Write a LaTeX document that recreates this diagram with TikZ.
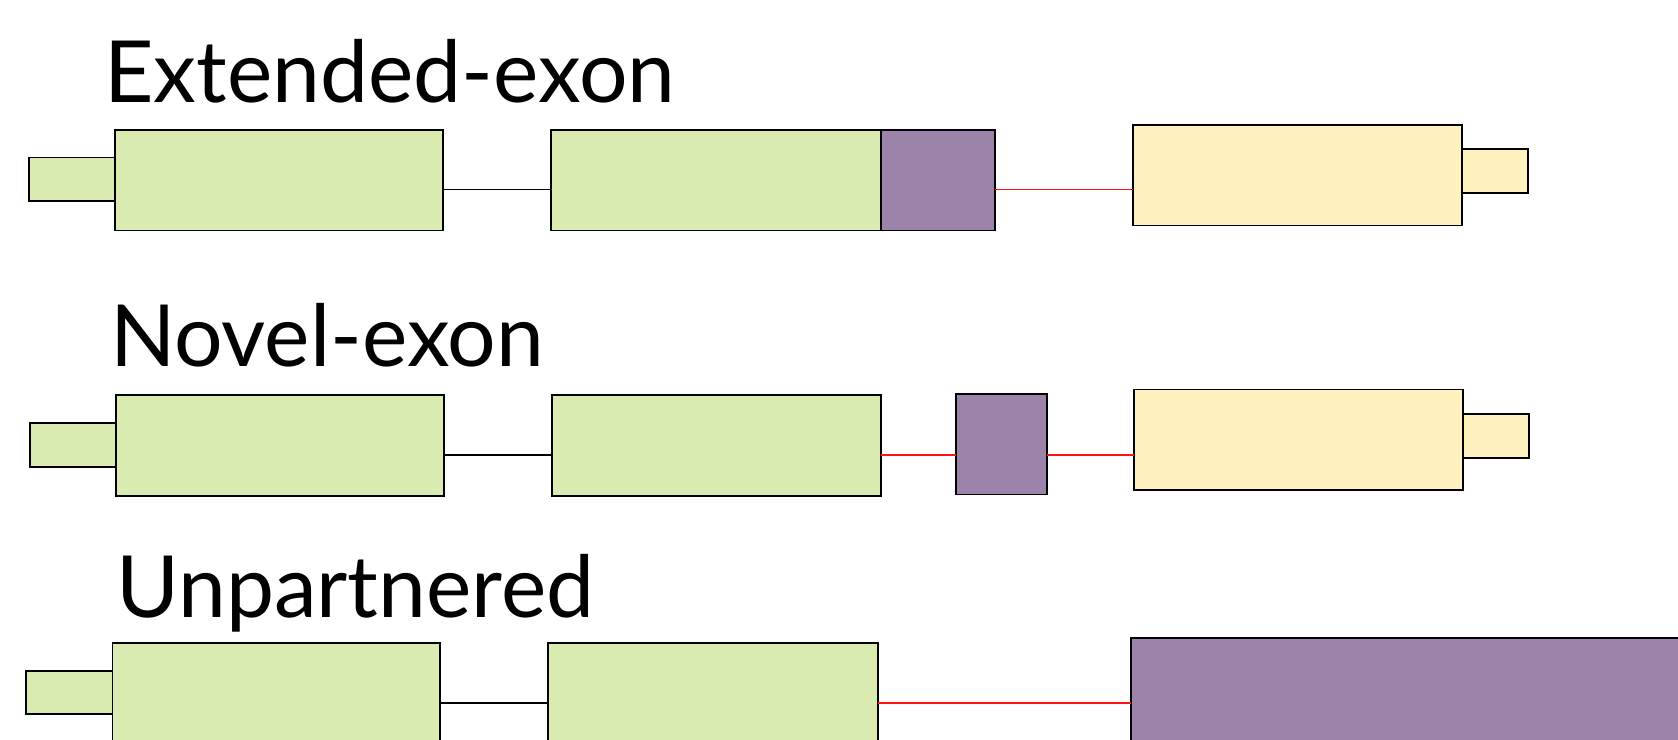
\documentclass[tikz,border=0pt]{standalone}
\usepackage{fontspec}
\setmainfont{Lato}
\definecolor{cds}{HTML}{DAEBB1}
\definecolor{novel}{HTML}{9C83A9}
\definecolor{utr}{HTML}{FFF2BF}
\definecolor{junction}{HTML}{FF1414}

% exon box from its top-left corner (x1,y1) to bottom-right corner (x2,y2)
\newcommand{\exonbox}[6]{%
  \node[exon,#6,minimum width={(#4-#2)*0.03cm},minimum height={(#5-#3)*0.03cm}] (#1) at (#2,#3) {};}

\begin{document}
\begin{tikzpicture}[x=0.03cm,y=-0.03cm,
  exon/.style={draw=black,line width=1.5pt,inner sep=0pt,outer sep=0pt,anchor=north west},
  coding/.style={fill=cds},
  extra/.style={fill=novel},
  utrbox/.style={fill=utr},
  intron/.style={draw=black,line width=1.5pt},
  newjunc/.style={draw=junction,line width=1.5pt},
  title/.style={anchor=base west,inner sep=0pt,font=\fontsize{73.2}{80}\selectfont}]
\clip (0,0) rectangle (1678,740);
\fill[white] (0,0) rectangle (1678,740);

% ---- Extended-exon ----
\node[title] (t1) at (104,103) {Extended-exon};
\exonbox{u1a}{29}{157.5}{115}{201}{coding}
\exonbox{e1a}{115}{130}{443}{230.5}{coding}
\exonbox{e1b}{551}{130}{881}{230.5}{coding}
\exonbox{x1}{881}{130}{995}{230.5}{extra}
\exonbox{u1b}{1462}{149.3}{1528}{193.3}{utrbox}
\exonbox{e1c}{1133}{124.7}{1462}{225.5}{utrbox}
\coordinate (r1) at (0,189.5);
\draw[intron] (e1a.east |- r1) -- (e1b.west |- r1);
\draw[newjunc] (x1.east |- r1) -- (e1c.west |- r1);

% ---- Novel-exon ----
\node[title] (t2) at (110,366) {Novel-exon};
\exonbox{u2a}{30}{422.7}{116}{467.3}{coding}
\exonbox{e2a}{116}{395}{444}{496}{coding}
\exonbox{e2b}{552}{395}{881}{496}{coding}
\exonbox{x2}{956}{394}{1047}{494.5}{extra}
\exonbox{u2b}{1463}{414.2}{1529}{458}{utrbox}
\exonbox{e2c}{1134}{389.6}{1463}{490.2}{utrbox}
\coordinate (r2) at (0,455);
\draw[intron] (e2a.east |- r2) -- (e2b.west |- r2);
\draw[newjunc] (e2b.east |- r2) -- (x2.west |- r2);
\draw[newjunc] (x2.east |- r2) -- (e2c.west |- r2);

% ---- Unpartnered ----
\node[title] (t3) at (116,617) {Unpartnered};
\exonbox{u3a}{26}{671}{112.5}{714}{coding}
\exonbox{e3a}{112.5}{643}{440}{745}{coding}
\exonbox{e3b}{548}{643}{878}{745}{coding}
\exonbox{x3}{1131}{638}{1700}{745}{extra}
\coordinate (r3) at (0,703);
\draw[intron] (e3a.east |- r3) -- (e3b.west |- r3);
\draw[newjunc] (e3b.east |- r3) -- (x3.west |- r3);
\end{tikzpicture}
\end{document}
